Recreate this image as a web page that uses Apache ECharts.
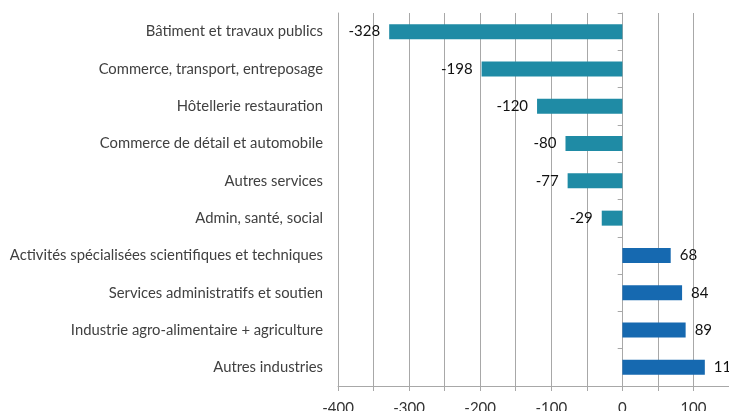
<!DOCTYPE html>
<html>
<head>
<meta charset="utf-8">
<script src="https://cdn.jsdelivr.net/npm/echarts@6/dist/echarts.min.js"></script>
<style>
  html, body { margin: 0; padding: 0; background: #fff; }
  #chartsDiv { width: 729px; height: 411px; }
</style>
</head>
<body>
<div id="chartsDiv"></div>
<script>
// secteurs, du haut vers le bas
var categories = [
  'Bâtiment et travaux publics',
  'Commerce, transport, entreposage',
  'Hôtellerie restauration',
  'Commerce de détail et automobile',
  'Autres services',
  'Admin, santé, social',
  'Activités spécialisées scientifiques et techniques',
  'Services administratifs et soutien',
  'Industrie agro-alimentaire + agriculture',
  'Autres industries'
];
var values = [-328, -198, -120, -80, -77, -29, 68, 84, 89, 116];
var xTicks = [-400, -300, -200, -100, 0, 100];

var negColor = '#1f8ba5';
var posColor = '#1669b0';
var gridColor = '#a8a8a8';

var realChart = echarts.init(document.getElementById('chartsDiv'));

var option = {
  animation: false,
  grid: {
    left: 338,
    right: 0,
    top: 13,
    bottom: 25,
    outerBoundsMode: 'none'
  },
  xAxis: {
    type: 'value',
    min: -400,
    max: 150,
    interval: 50,
    axisLine: {
      show: true,
      onZero: false,
      lineStyle: { color: gridColor }
    },
    axisTick: {
      show: true,
      length: 5,
      lineStyle: { color: gridColor }
    },
    splitLine: {
      show: true,
      lineStyle: { color: gridColor, width: 1 }
    },
    axisLabel: {
      margin: 15,
      color: '#333',
      fontFamily: 'Lato',
      fontSize: 15,
      showMaxLabel: false,
      formatter: function (v) {
        return xTicks.indexOf(v) >= 0 ? String(v) : '';
      }
    }
  },
  yAxis: [{
    type: 'category',
    data: categories,
    inverse: true,
    position: 'left',
    axisLine: {
      show: true,
      onZero: false,
      lineStyle: { color: gridColor }
    },
    axisTick: { show: false },
    axisLabel: {
      margin: 15,
      color: '#404040',
      fontFamily: 'Lato',
      fontSize: 14.8
    }
  }, {
    // ligne du zéro avec ses graduations
    type: 'category',
    data: categories,
    inverse: true,
    position: 'left',
    offset: -284.7,
    axisLine: {
      show: true,
      onZero: false,
      lineStyle: { color: gridColor }
    },
    axisTick: {
      show: true,
      length: 5,
      lineStyle: { color: gridColor }
    },
    axisLabel: { show: false }
  }],
  series: [{
    type: 'bar',
    yAxisIndex: 0,
    barWidth: 15,
    data: values.map(function (v) {
      return {
        value: v,
        itemStyle: { color: v < 0 ? negColor : posColor },
        label: { position: v < 0 ? 'left' : 'right' }
      };
    }),
    label: {
      show: true,
      distance: 9,
      color: '#111',
      fontFamily: 'Lato',
      fontSize: 15
    }
  }]
};

realChart.setOption(option);
</script>
</body>
</html>
